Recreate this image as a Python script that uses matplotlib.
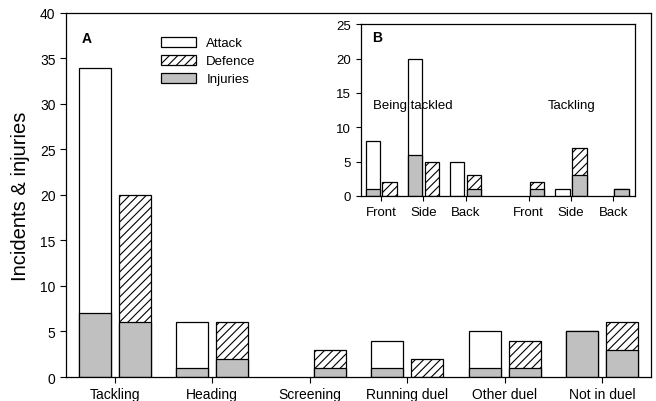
import matplotlib
matplotlib.use("Agg")
import matplotlib.pyplot as plt
from matplotlib.patches import Patch

plt.rcParams['font.family'] = ['Liberation Sans', 'DejaVu Sans']
plt.rcParams['hatch.linewidth'] = 0.8

# Panel A data
categories = ["Tackling", "Heading", "Screening", "Running duel", "Other duel", "Not in duel"]
attack = [34, 6, 0, 4, 5, 5]
attack_inj = [7, 1, 0, 1, 1, 5]
defence = [20, 6, 3, 2, 4, 6]
defence_inj = [6, 2, 1, 0, 1, 3]

# Panel B data (being tackled: Front, Side, Back / tackling: Front, Side, Back)
b_labels = ["Front", "Side", "Back", "Front", "Side", "Back"]
b_pos = [0, 1, 2, 3.5, 4.5, 5.5]
b_attack = [8, 20, 5, 0, 1, 0]
b_attack_inj = [1, 6, 0, 0, 0, 0]
b_defence = [2, 5, 3, 2, 7, 1]
b_defence_inj = [0, 0, 1, 1, 3, 1]

grey = "#c0c0c0"
LW = 0.9


def lw(vals):
    # no outline for empty bars
    return [LW if v > 0 else 0 for v in vals]


fig = plt.figure(figsize=(6.56, 4.02), dpi=100)

# main panel
ax = fig.add_axes([0.1006, 0.0597, 0.8918, 0.9055])
x = list(range(len(categories)))
w = 0.33
off = 0.205
xa = [i - off for i in x]
xd = [i + off for i in x]
ax.bar(xa, attack, w, color="white", edgecolor="black", linewidth=lw(attack))
ax.bar(xa, attack_inj, w, color=grey, edgecolor="black", linewidth=lw(attack_inj))
ax.bar(xd, defence, w, color="white", edgecolor="black", linewidth=lw(defence), hatch="////")
ax.bar(xd, defence_inj, w, color=grey, edgecolor="black", linewidth=lw(defence_inj))
ax.set_xlim(-0.5, 5.5)
ax.set_ylim(0, 40)
ax.set_xticks(x)
ax.set_xticklabels(categories, fontsize=10)
ax.set_yticks(range(0, 41, 5))
ax.tick_params(axis="y", labelsize=10, length=4)
ax.tick_params(axis="x", length=4)
ax.set_ylabel("Incidents & injuries", fontsize=14.5, labelpad=7)
for s in ax.spines.values():
    s.set_linewidth(LW)
ax.text(0.027, 0.93, "A", transform=ax.transAxes, fontsize=10,
        fontweight="bold", va="center")

handles = [Patch(facecolor="white", edgecolor="black", linewidth=LW),
           Patch(facecolor="white", edgecolor="black", linewidth=LW, hatch="////"),
           Patch(facecolor=grey, edgecolor="black", linewidth=LW)]
ax.legend(handles, ["Attack", "Defence", "Injuries"], loc="upper left",
          bbox_to_anchor=(0.162, 0.934), frameon=False, fontsize=9.5,
          handlelength=2.7, handleheight=0.75, handletextpad=0.75,
          labelspacing=0.42, borderpad=0, borderaxespad=0)

# inset panel B
axb = fig.add_axes([0.5503, 0.51, 0.4177, 0.427])
bw = 0.345
boff = 0.2
bxa = [p - boff for p in b_pos]
bxd = [p + boff for p in b_pos]
axb.bar(bxa, b_attack, bw, color="white", edgecolor="black", linewidth=lw(b_attack))
axb.bar(bxa, b_attack_inj, bw, color=grey, edgecolor="black", linewidth=lw(b_attack_inj))
axb.bar(bxd, b_defence, bw, color="white", edgecolor="black", linewidth=lw(b_defence), hatch="////")
axb.bar(bxd, b_defence_inj, bw, color=grey, edgecolor="black", linewidth=lw(b_defence_inj))
axb.set_xlim(-0.48, 6.02)
axb.set_ylim(0, 25)
axb.set_xticks(b_pos)
axb.set_xticklabels(b_labels, fontsize=9.5)
axb.set_yticks(range(0, 26, 5))
axb.tick_params(axis="both", labelsize=9.5, length=3.5)
for s in axb.spines.values():
    s.set_linewidth(LW)
axb.text(0.04, 0.924, "B", transform=axb.transAxes, fontsize=10,
         fontweight="bold", va="center")
axb.text(-0.19, 13.3, "Being tackled", fontsize=9.5, va="center")
axb.text(3.95, 13.3, "Tackling", fontsize=9.5, va="center")

fig.savefig("out.png", dpi=100)
